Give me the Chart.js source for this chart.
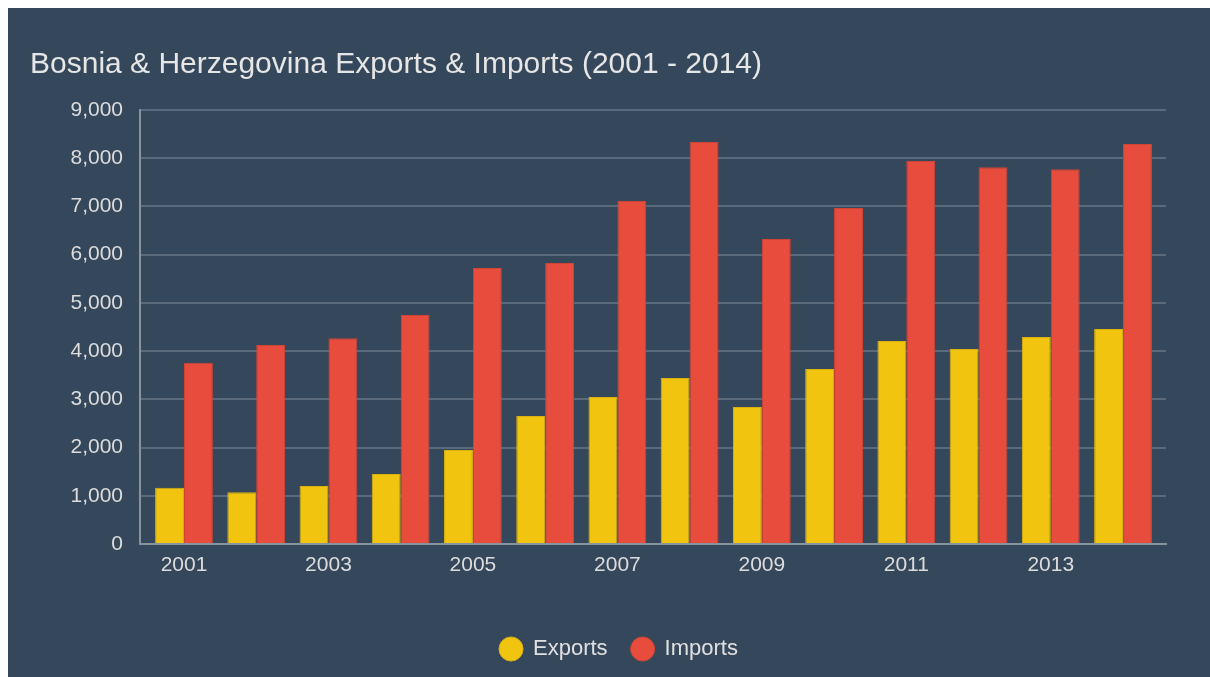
<!DOCTYPE html>
<html>
<head>
<meta charset="utf-8">
<script src="https://cdn.jsdelivr.net/npm/chart.js@4/dist/chart.umd.min.js"></script>
<style>
  body { margin: 0; background: #ffffff; }
  #card {
    position: absolute; left: 8px; top: 8px;
    width: 1202px; height: 669px;
    background: #35475b;
  }
</style>
</head>
<body>
<div id="card"><canvas id="tradeChart"></canvas></div>
<script>
// Bosnia & Herzegovina trade, millions USD
const years = ['2001', '2002', '2003', '2004', '2005', '2006', '2007',
               '2008', '2009', '2010', '2011', '2012', '2013', '2014'];
const exportsData = [1165, 1075, 1203, 1452, 1950, 2655, 3049, 3443, 2841, 3629, 4210, 4044, 4293, 4459];
const importsData = [3760, 4127, 4266, 4749, 5724, 5827, 7113, 8337, 6325, 6968, 7943, 7812, 7771, 8295];
const yTicks = [0, 1000, 2000, 3000, 4000, 5000, 6000, 7000, 8000, 9000];

Chart.defaults.color = '#dcdcdc';
Chart.defaults.font.family = "'Liberation Sans', Arial, sans-serif";

// nudge the legend a bit right, the original isn't centred on the plot
const legendShift = {
    id: 'legendShift',
    afterLayout(chart) {
        chart.legend.left += 21;
        chart.legend.right += 21;
    }
};

const ctx = document.getElementById('tradeChart');

new Chart(ctx, {
    type: 'bar',
    data: {
        labels: years,
        datasets: [{
            label: 'Exports',
            data: exportsData,
            backgroundColor: '#f1c40f',
            borderColor: '#d9b10e',
            borderWidth: 1
        }, {
            label: 'Imports',
            data: importsData,
            backgroundColor: '#e74c3c',
            borderColor: '#d04436',
            borderWidth: 1
        }]
    },
    plugins: [legendShift],
    options: {
        responsive: true,
        maintainAspectRatio: false,
        animation: false,
        layout: { padding: { left: 22, right: 44, top: 0, bottom: 7 } },
        datasets: { bar: { categoryPercentage: 0.8, barPercentage: 1.0 } },
        plugins: {
            title: {
                display: true,
                text: 'Bosnia & Herzegovina Exports & Imports (2001 - 2014)',
                align: 'start',
                color: '#e6e6e6',
                font: { size: 30, weight: 'normal' },
                padding: { top: 39, bottom: 27 }
            },
            legend: {
                position: 'bottom',
                labels: {
                    usePointStyle: true,
                    pointStyle: 'circle',
                    boxWidth: 22,
                    boxHeight: 17,
                    font: { size: 22 },
                    color: '#e0e0e0',
                    padding: 24
                }
            },
            tooltip: { enabled: false }
        },
        scales: {
            x: {
                grid: { display: false, drawTicks: false },
                border: { color: '#8794a0', width: 2 },
                afterBuildTicks: function(axis) {
                    // a little extra inset at both ends of the category axis
                    axis._startValue = -0.609;
                    axis._valueRange = 14.204;
                },
                afterFit: function(axis) { axis.height = 70; },
                ticks: {
                    font: { size: 21 },
                    padding: 9,
                    maxRotation: 0,
                    autoSkip: false,
                    callback: function(value, index) {
                        return index % 2 === 0 ? years[index] : '';
                    }
                }
            },
            y: {
                min: 0,
                max: 9000,
                afterBuildTicks: function(axis) {
                    axis.ticks = yTicks.map(v => ({ value: v }));
                },
                afterFit: function(axis) { axis.width = 110; },
                grid: { color: '#5b6a7a', lineWidth: 2, drawTicks: false },
                border: { color: '#8794a0', width: 2 },
                ticks: {
                    font: { size: 21 },
                    padding: 17
                }
            }
        }
    }
});
</script>
</body>
</html>
